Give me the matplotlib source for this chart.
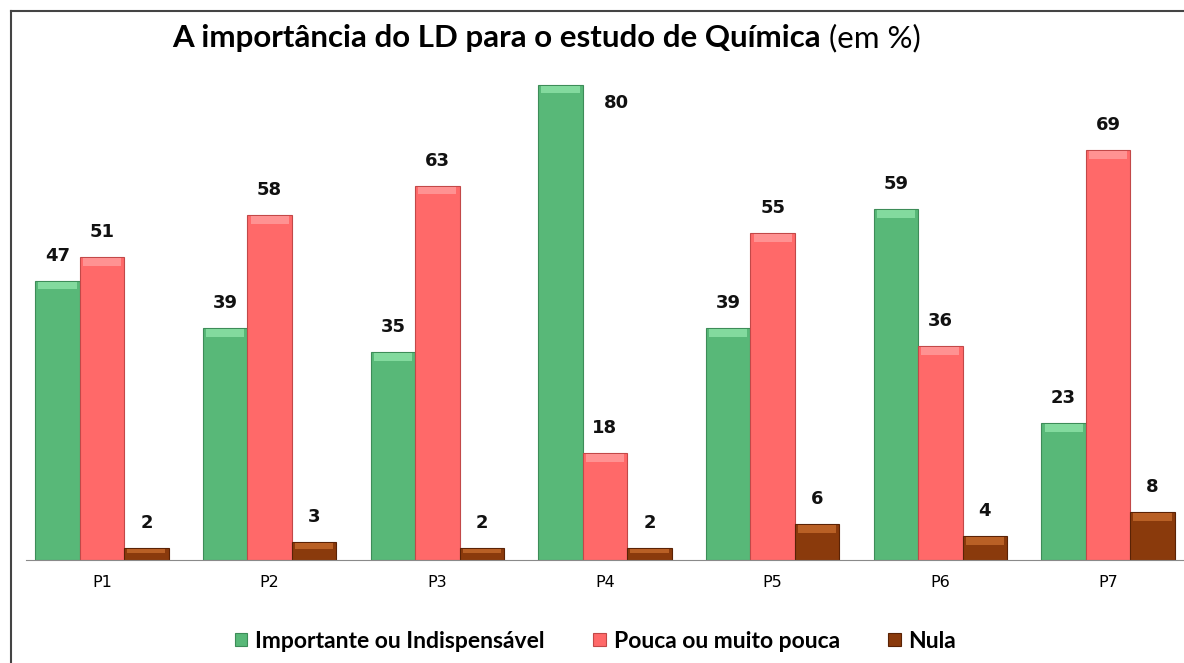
import numpy as np
import matplotlib.pyplot as plt
from matplotlib.lines import Line2D

categories = ["P1", "P2", "P3", "P4", "P5", "P6", "P7"]
importante = [47, 39, 35, 80, 39, 59, 23]
pouca = [51, 58, 63, 18, 55, 36, 69]
nula = [2, 3, 2, 2, 6, 4, 8]

# name, values, face colour, edge colour, top highlight colour
series = [
    ("Importante ou Indispensável", importante, "#58b878", "#3d8c58", "#8fe3a8"),
    ("Pouca ou muito pouca", pouca, "#ff6969", "#c24848", "#ff9d9d"),
    ("Nula", nula, "#8a3a0c", "#5a2205", "#c66a2c"),
]

fig = plt.figure(figsize=(11.84, 6.63), dpi=100)
ax = fig.add_axes([26.5 / 1184, 103 / 663, (1183.5 - 26.5) / 1184, (505 / 663)])

x = np.arange(len(categories))
w = 0.265

for i, (name, vals, col, edge, hi) in enumerate(series):
    pos = x + (i - 1) * w
    vals = np.array(vals, dtype=float)
    ax.bar(pos, vals, w, color=col, edgecolor=edge, linewidth=0.8, label=name)
    # light bevel at the top of each bar
    band = np.minimum(vals * 0.35, 1.3)
    ax.bar(pos, band, w * 0.86, bottom=vals - band - 0.15, color=hi,
           linewidth=0, alpha=0.8)
    for p, v in zip(pos, vals):
        if i == 0 and v == max(importante):
            ax.text(p + w * 1.25, v - 3, str(int(v)), ha="center", va="center",
                    fontsize=13, fontweight="bold", family="DejaVu Sans",
                    color="#111111")
        else:
            ax.text(p, v + 2.7, str(int(v)), ha="center", va="bottom",
                    fontsize=13, fontweight="bold", family="DejaVu Sans",
                    color="#111111")

ax.set_xlim(-0.45, 6.45)
ax.set_ylim(0, 85)
ax.set_xticks(x)
ax.set_xticklabels(categories, fontsize=11.5, family="DejaVu Sans")
ax.set_yticks([])
for s in ["top", "right", "left"]:
    ax.spines[s].set_visible(False)
ax.spines["bottom"].set_color("#8a8a8a")
ax.tick_params(axis="x", length=0, pad=11)

title = fig.text(172 / 1184, 1 - 47 / 663, "A importância do LD para o estudo de Química",
                 fontsize=22.5, fontweight="bold", family="Lato",
                 ha="left", va="baseline")
ax.annotate("(em %)", xy=(1, 0), xycoords=title, xytext=(6, 0),
            textcoords="offset points", fontsize=22.5, family="Lato",
            ha="left", va="bottom", annotation_clip=False)

fig.legend(loc="center", bbox_to_anchor=(0.503, 0.033), ncol=3, frameon=False,
           prop={"family": "Lato", "size": 16.5, "weight": "bold"},
           handlelength=0.55, handleheight=0.55, columnspacing=2.1,
           handletextpad=0.35)

# chart frame (left and top border)
fig.add_artist(Line2D([11 / 1184, 11 / 1184], [0, 1 - 11 / 663], color="#444444", lw=1.5))
fig.add_artist(Line2D([11 / 1184, 1], [1 - 11 / 663, 1 - 11 / 663], color="#444444", lw=1.5))

fig.savefig("out.png", dpi=100)
